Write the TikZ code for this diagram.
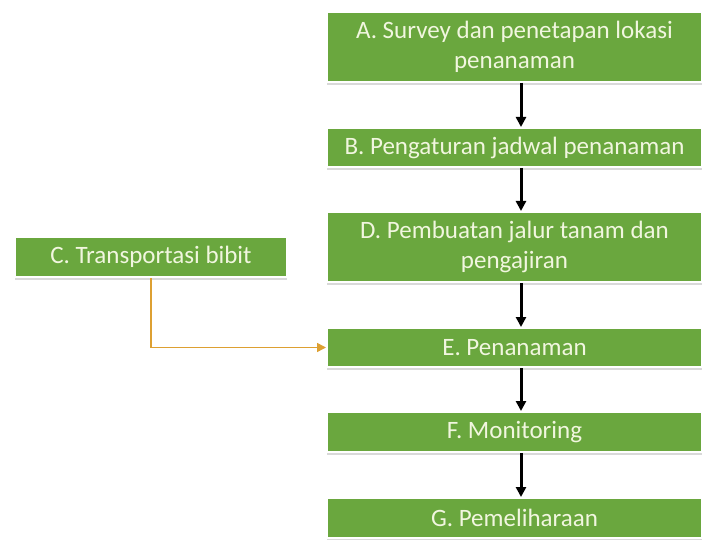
\documentclass[tikz,border=0pt]{standalone}
\usepackage{fontspec}
\setmainfont{Carlito}
\usetikzlibrary{shadows,arrows.meta}
\definecolor{boxgreen}{HTML}{6AA73E}
\definecolor{textcream}{HTML}{F1F6DF}
\definecolor{linkorange}{HTML}{DDA032}
\tikzset{
    flow/.style={draw=black,line width=3pt,-{Triangle[length=10pt,width=10pt]}},
    feed/.style={draw=linkorange,line width=1.6pt,-{Triangle[length=9pt,width=9pt]}}
}

\begin{document}
\begin{tikzpicture}[x=1pt,y=-1pt]
        \useasboundingbox (0,0) rectangle (704,540);
        \begin{scope}[every node/.style={rectangle,fill=boxgreen,draw=white,line width=2pt,
                      text=textcream,align=center,font=\fontsize{25}{30}\selectfont,
                      inner sep=0pt,
                      drop shadow={opacity=0.3,shadow xshift=0pt,shadow yshift=-3pt}}]
            \node (A) [minimum width=375pt, minimum height=70pt] at (514.5, 47) {A. Survey dan penetapan lokasi\\penanaman};
            \node (B) [minimum width=375pt, minimum height=39pt] at (514.5, 147.5) {B. Pengaturan jadwal penanaman};
            \node (D) [minimum width=375pt, minimum height=70pt] at (514.5, 247) {D. Pembuatan jalur tanam dan\\pengajiran};
            \node (C) [minimum width=272pt, minimum height=40pt] at (151, 257) {C. Transportasi bibit};
            \node (E) [minimum width=375pt, minimum height=39pt] at (514.5, 347.5) {E. Penanaman};
            \node (F) [minimum width=375pt, minimum height=40pt] at (514.5, 432) {F. Monitoring};
            \node (G) [minimum width=375pt, minimum height=40pt] at (514.5, 518) {G. Pemeliharaan};
        \end{scope}

        \draw [flow] (A.south -| 521,0) -- (B.north -| 521,0);
        \draw [flow] (B.south -| 521,0) -- (D.north -| 521,0);
        \draw [flow] (D.south -| 521,0) -- (E.north -| 521,0);
        \draw [flow] (E.south -| 521,0) -- (F.north -| 521,0);
        \draw [flow] (F.south -| 521,0) -- (G.north -| 521,0);
        \draw [feed] (C.south) |- (E.west);
    \end{tikzpicture}
\end{document}
